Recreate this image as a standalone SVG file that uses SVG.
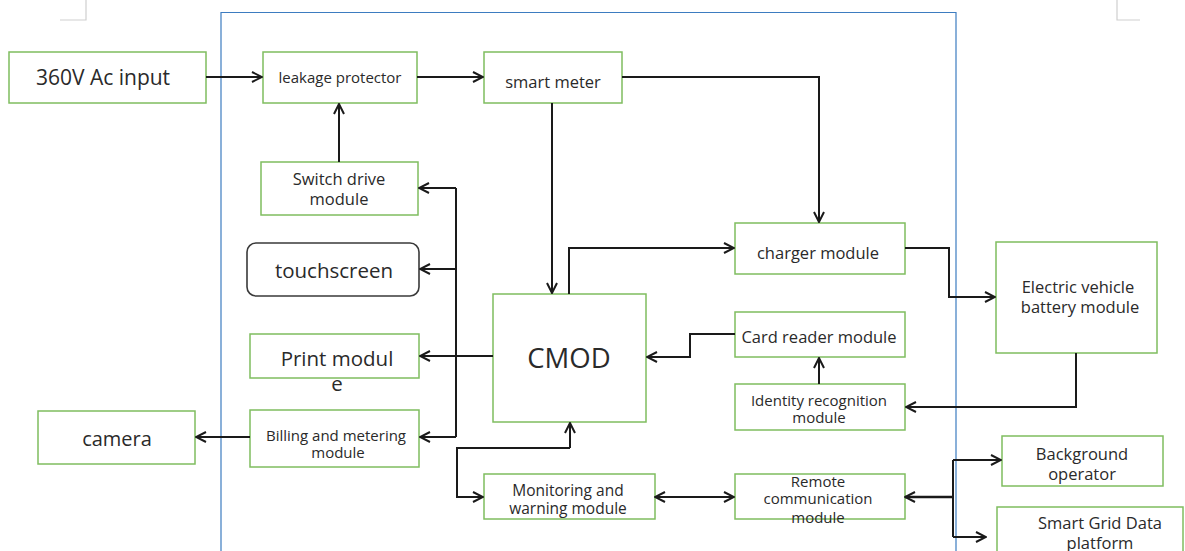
<svg xmlns="http://www.w3.org/2000/svg" width="1185" height="551" viewBox="0 0 1185 551">
<style>
.n{fill:#fff;stroke:#7fbd5f;stroke-width:1.5}
.r{fill:#fff;stroke:#3a3a3a;stroke-width:1.6}
text{font-family:"Open Sans","Liberation Sans",sans-serif;fill:#2a2a2a;text-anchor:middle;dominant-baseline:central}
.c{fill:none;stroke:#1a1a1a;stroke-width:2}
.a{marker-end:url(#ah)}
</style>
<defs>
<marker id="ah" viewBox="0 0 12 12" refX="11" refY="6" markerWidth="12" markerHeight="12" markerUnits="userSpaceOnUse" orient="auto-start-reverse">
<path d="M1,1 L11,6 L1,11" fill="none" stroke="#1a1a1a" stroke-width="2"/>
</marker>
</defs>
<rect width="1185" height="551" fill="#fff"/>
<g id="marks" fill="none" stroke="#cfcfcf" stroke-width="1.2">
<path d="M86,0 V20 H60"/>
<path d="M1117,0 V20 H1140"/>
</g>
<path id="frame" d="M221,551 V12.5 H956 V551" fill="none" stroke="#3d7cc0" stroke-width="1.2"/>
<g id="input"><rect class="n" x="9" y="52" width="197" height="51"/><text x="103" y="77" font-size="21">360V Ac input</text></g>
<g id="leakage"><rect class="n" x="263" y="52" width="154" height="51"/><text x="340" y="77" font-size="15">leakage protector</text></g>
<g id="meter"><rect class="n" x="484" y="52" width="138" height="51"/><text x="553" y="81" font-size="16.5">smart meter</text></g>
<g id="switch"><rect class="n" x="261" y="162" width="157" height="53"/><text x="339" y="178" font-size="16.5">Switch drive</text><text x="339" y="198" font-size="16.5">module</text></g>
<g id="touch"><rect class="r" x="247" y="243" width="172" height="53" rx="9"/><text x="334" y="270" font-size="20.5">touchscreen</text></g>
<g id="print"><rect class="n" x="250" y="334" width="169" height="44"/><text x="337" y="358" font-size="20.5">Print modul</text><text x="337" y="383" font-size="20.5">e</text></g>
<g id="billing"><rect class="n" x="250" y="410" width="169" height="57"/><text x="336" y="435" font-size="15">Billing and metering</text><text x="338" y="452" font-size="15">module</text></g>
<g id="camera"><rect class="n" x="38" y="411" width="157" height="53"/><text x="117" y="438" font-size="20">camera</text></g>
<g id="cmod"><rect class="n" x="493" y="294" width="153" height="128"/><text x="569" y="357" font-size="27.5">CMOD</text></g>
<g id="charger"><rect class="n" x="735" y="223" width="170" height="51"/><text x="818" y="252" font-size="16.5">charger module</text></g>
<g id="card"><rect class="n" x="735" y="312" width="170" height="45"/><text x="819" y="336" font-size="16.5">Card reader module</text></g>
<g id="identity"><rect class="n" x="735" y="384" width="170" height="46"/><text x="819" y="400" font-size="15">Identity recognition</text><text x="819" y="417" font-size="15">module</text></g>
<g id="ev"><rect class="n" x="996" y="242" width="161" height="111"/><text x="1078" y="286" font-size="16.5">Electric vehicle</text><text x="1080" y="306" font-size="16.5">battery module</text></g>
<g id="monitor"><rect class="n" x="484" y="474" width="171" height="45"/><text x="568" y="490" font-size="15.5">Monitoring and</text><text x="568" y="508" font-size="15.5">warning module</text></g>
<g id="remote"><rect class="n" x="735" y="474" width="170" height="45"/><text x="818" y="481" font-size="15">Remote</text><text x="818" y="498" font-size="15">communication</text><text x="818" y="517" font-size="15">module</text></g>
<g id="background"><rect class="n" x="1002" y="436" width="161" height="50"/><text x="1082" y="453" font-size="16.5">Background</text><text x="1082" y="473" font-size="16.5">operator</text></g>
<g id="grid"><rect class="n" x="997" y="507" width="186" height="60"/><text x="1100" y="522" font-size="16.5">Smart Grid Data</text><text x="1100" y="542" font-size="16.5">platform</text></g>
<g id="connectors">
<path class="c a" d="M206,77 H262"/>
<path class="c a" d="M417,77 H483"/>
<path class="c a" d="M622,77 H819 V222"/>
<path class="c a" d="M339,162 V104"/>
<path class="c a" d="M552,103 V293"/>
<path class="c" d="M493,356 H456"/>
<path class="c" d="M456,188 V437"/>
<path class="c a" d="M456,188 H419"/>
<path class="c a" d="M456,269 H420"/>
<path class="c a" d="M456,356 H420"/>
<path class="c a" d="M456,437 H420"/>
<path class="c a" d="M250,437 H196"/>
<path class="c a" d="M569,294 V248 H734"/>
<path class="c a" d="M905,248 H949 V297 H995"/>
<path class="c a" d="M735,334 H690 V357 H647"/>
<path class="c a" d="M819,384 V358"/>
<path class="c a" d="M1076,353 V407 H906"/>
<path class="c a" d="M570,448 V423" />
<path class="c a" d="M570,448 H457 V497 H483"/>
<path class="c a" d="M655,497 H734" style="marker-start:url(#ah)"/>
<path class="c" d="M905,497 H953" style="marker-start:url(#ah);stroke-width:2.6"/>
<path class="c" d="M953,460 V537"/>
<path class="c a" d="M953,460 H1001"/>
<path class="c a" d="M953,537 H986"/>
</g>
</svg>
